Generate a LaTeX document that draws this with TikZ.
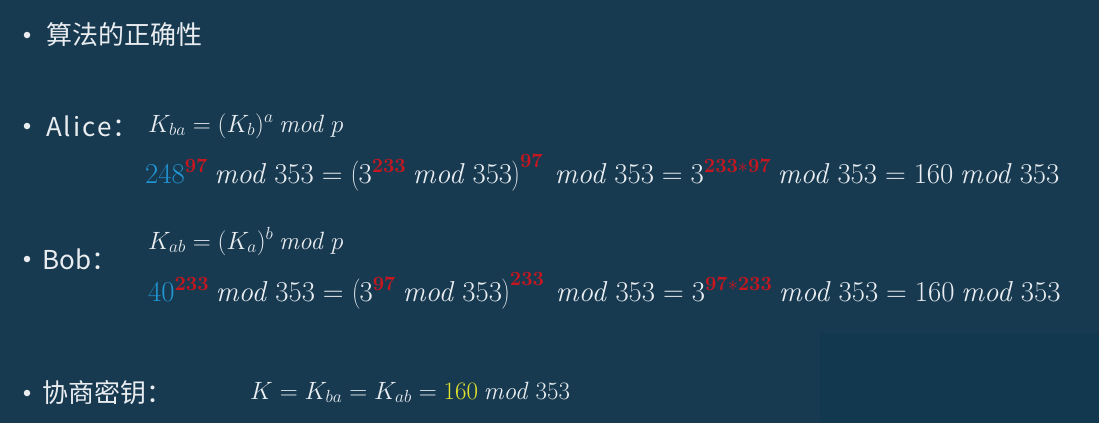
\RequirePackage{fix-cm}
\documentclass[tikz,border=0pt]{standalone}
\usepackage[no-math]{fontspec}
\setmainfont{Noto Sans CJK SC}
\definecolor{bgblue}{HTML}{183A51}
\definecolor{bgdark}{HTML}{123850}
\definecolor{txt}{HTML}{E9EDF0}
\definecolor{numblue}{HTML}{2196D3}
\definecolor{supred}{HTML}{C8161E}
\definecolor{keyyel}{HTML}{E3E42C}
\newcommand{\md}{\mathit{mod}}
\newcommand{\rd}[1]{\textcolor{supred}{\mathbf{#1}}}
\newcommand{\bl}[1]{\textcolor{numblue}{#1}}
\begin{document}
\begin{tikzpicture}[x=1pt,y=-1pt,
    bul/.style={circle,fill=txt,inner sep=0pt,minimum size=6.5pt},
    item/.style={anchor=west,text=txt,inner sep=0pt,font=\fontsize{26}{30}\selectfont},
    eq/.style={anchor=base west,text=txt,inner sep=0pt,font=\fontsize{25}{30}\selectfont},
    calc/.style={eq,font=\fontsize{28.8}{34}\selectfont}]
  \fill[bgblue] (0,0) rectangle (1099,423);
  \fill[bgdark] (820,333) rectangle (1099,423);
  % bullets
  \node[bul] (b1) at (27,35) {};
  \node[bul] (b2) at (27,126) {};
  \node[bul] (b3) at (27,259) {};
  \node[bul] (b4) at (27,393) {};
  % items
  \node[item] (title) at (46,35) {算法的正确性};
  \node[item] (alice) at (46,126) {A\kern2pt l\kern2pt i\kern2pt c\kern2pt e：};
  \node[item] (bob) at (42,259) {Bob：};
  \node[item] (key) at (42,393) {协商密钥：};
  % formulas
  \node[eq] (kba) at (148,132) {$K_{ba}=(K_b)^a\ \md\ p$};
  \node[calc] (calca) at (145,183) {$\bl{248}^{\rd{97}}\ \md\ 353=\left(\vphantom{\Big(}3^{\rd{233}}\ \md\ 353\right)^{\rd{97}}\ \md\ 353=3^{\rd{233\ast97}}\ \md\ 353=160\ \md\ 353$};
  \node[eq] (kab) at (148,249) {$K_{ab}=(K_a)^b\ \md\ p$};
  \node[calc] (calcb) at (148,301) {$\bl{40}^{\rd{233}}\ \md\ 353=\left(\vphantom{\Big(}3^{\rd{97}}\ \md\ 353\right)^{\rd{233}}\ \md\ 353=3^{\rd{97\ast233}}\ \md\ 353=160\ \md\ 353$};
  \node[eq] (kres) at (250,399) {$K=K_{ba}=K_{ab}=\textcolor{keyyel}{160}\ \md\ 353$};
\end{tikzpicture}
\end{document}
